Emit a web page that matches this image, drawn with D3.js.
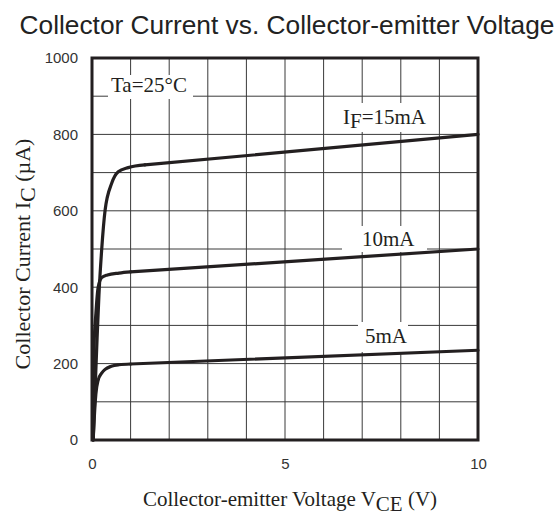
<!DOCTYPE html>
<html>
<head>
<meta charset="utf-8">
<script src="https://cdn.jsdelivr.net/npm/d3@7"></script>
<style>
  body { margin: 0; background: #fff; }
  svg { display: block; }
</style>
</head>
<body>
<svg id="chart" width="558" height="520"></svg>
<script>
// values (V_CE in volts, I_C in uA)
const vce15 = [0.03, 0.12, 0.18, 0.25, 0.34, 0.51, 0.68, 0.94, 1.37, 10];
const ic15  = [0, 236, 380, 497, 602, 672, 702, 713, 720, 800];
const vce10 = [0.03, 0.05, 0.1, 0.16, 0.25, 0.4, 0.7, 1, 10];
const ic10  = [0, 236, 330, 400, 425, 432, 437, 440, 500];
const vce5  = [0.03, 0.06, 0.1, 0.16, 0.25, 0.34, 0.5, 0.7, 1, 10];
const ic5   = [0, 60, 120, 157, 175, 185, 193, 197, 199, 235];

const xTicks = [0, 5, 10];
const yTicks = [0, 200, 400, 600, 800, 1000];

const ink = '#231f20';

const svg = d3.select('#chart');
const plotL = 92, plotR = 478, plotT = 58, plotB = 440;

const x = d3.scaleLinear().domain([0, 10]).range([plotL, plotR]);
const y = d3.scaleLinear().domain([0, 1000]).range([plotB, plotT]);

// title
svg.append('text')
    .attr('x', 287).attr('y', 34)
    .attr('text-anchor', 'middle')
    .attr('font-family', 'Liberation Sans, Arial, sans-serif')
    .attr('font-size', 26.3)
    .attr('fill', '#222')
    .text('Collector Current vs. Collector-emitter Voltage');

// grid
const grid = svg.append('g').attr('stroke', '#3a3a3a').attr('stroke-width', 1);
grid.selectAll('.gx').data(x.ticks(10)).enter().append('line')
    .attr('x1', d => x(d)).attr('x2', d => x(d))
    .attr('y1', plotT).attr('y2', plotB);
grid.selectAll('.gy').data(y.ticks(10)).enter().append('line')
    .attr('x1', plotL).attr('x2', plotR)
    .attr('y1', d => y(d)).attr('y2', d => y(d));

// white boxes behind the in-plot labels
const boxes = [
    { x0: 108, y0: 75, w: 85, h: 24 },
    { x0: 338, y0: 103, w: 94, h: 29 },
    { x0: 342, y0: 226, w: 85, h: 26 },
    { x0: 358, y0: 322, w: 50, h: 30 }
];
svg.append('g').selectAll('rect').data(boxes).enter().append('rect')
    .attr('x', d => d.x0).attr('y', d => d.y0)
    .attr('width', d => d.w).attr('height', d => d.h)
    .attr('fill', '#fff');

// curves: smooth knee, straight saturation tail
const series = [
    { v: vce15, i: ic15 },
    { v: vce10, i: ic10 },
    { v: vce5, i: ic5 }
];
const knee = d3.line()
    .x(d => x(d[0]))
    .y(d => y(d[1]))
    .curve(d3.curveMonotoneX);
const tail = d3.line()
    .x(d => x(d[0]))
    .y(d => y(d[1]));

const curves = svg.append('g')
    .attr('fill', 'none')
    .attr('stroke', ink)
    .attr('stroke-width', 3.2)
    .attr('stroke-linejoin', 'round')
    .attr('stroke-linecap', 'round');
series.forEach(s => {
    const pts = s.v.map((v, k) => [v, s.i[k]]);
    const n = pts.length;
    curves.append('path').attr('d', knee(pts.slice(0, n - 1)));
    curves.append('path').attr('d', tail(pts.slice(n - 2)));
});

// frame
svg.append('rect')
    .attr('x', plotL).attr('y', plotT)
    .attr('width', plotR - plotL).attr('height', plotB - plotT)
    .attr('fill', 'none')
    .attr('stroke', ink)
    .attr('stroke-width', 3);

// axes labels (numbers)
const xAxis = svg.append('g')
    .attr('transform', `translate(0,${plotB + 18})`)
    .call(d3.axisBottom(x).tickValues(xTicks).tickFormat(d3.format('d')).tickSize(0).tickPadding(0));
const yAxis = svg.append('g')
    .attr('transform', `translate(${plotL - 14},0)`)
    .call(d3.axisLeft(y).tickValues(yTicks).tickFormat(d3.format('d')).tickSize(0).tickPadding(0));
[xAxis, yAxis].forEach(a => {
    a.select('.domain').remove();
    a.selectAll('text')
        .attr('font-family', 'Liberation Sans, Arial, sans-serif')
        .attr('font-size', 15)
        .attr('fill', '#333');
});

const serif = 'Liberation Serif, Times New Roman, serif';

// in-plot annotations
function label(tx, ty, parts) {
    const t = svg.append('text')
        .attr('x', tx).attr('y', ty)
        .attr('font-family', serif)
        .attr('font-size', 21)
        .attr('fill', ink);
    parts.forEach(p => {
        t.append('tspan')
            .attr('dy', p.dy || 0)
            .text(p.s);
    });
    return t;
}
label(111, 92, [{ s: 'Ta=25°C' }]);
label(343, 124, [{ s: 'I' }, { s: 'F', dy: 4 }, { s: '=15mA', dy: -4 }]);
label(362, 246, [{ s: '10mA' }]);
label(365, 343, [{ s: '5mA' }]);

// axis titles
const xt = svg.append('text')
    .attr('x', 290).attr('y', 506)
    .attr('text-anchor', 'middle')
    .attr('font-family', serif)
    .attr('font-size', 21)
    .attr('fill', ink);
xt.append('tspan').text('Collector-emitter Voltage V');
xt.append('tspan').attr('dy', 5).text('CE');
xt.append('tspan').attr('dy', -5).text(' (V)');

const yt = svg.append('text')
    .attr('transform', 'translate(30,254) rotate(-90)')
    .attr('text-anchor', 'middle')
    .attr('font-family', serif)
    .attr('font-size', 22)
    .attr('fill', ink);
yt.append('tspan').text('Collector Current I');
yt.append('tspan').attr('dy', 5).text('C');
yt.append('tspan').attr('dy', -5).text(' (µA)');
</script>
</body>
</html>
